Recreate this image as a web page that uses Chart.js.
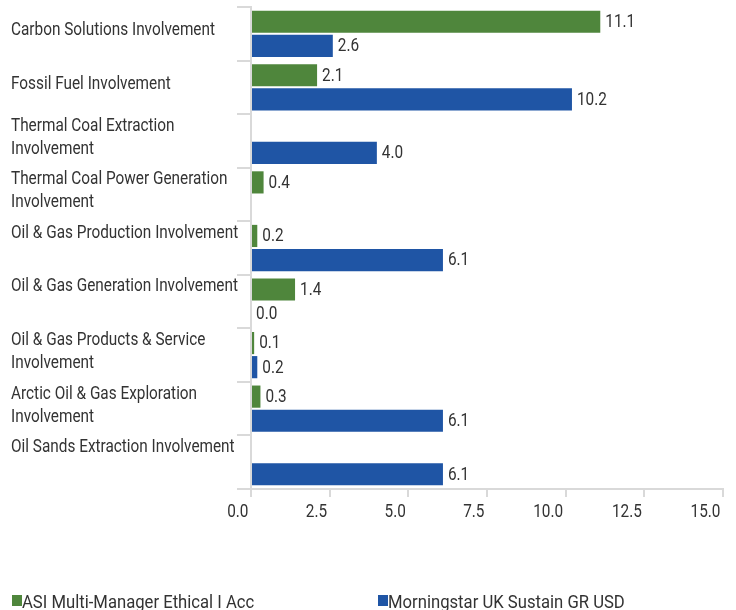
<!DOCTYPE html>
<html>
<head>
<meta charset="utf-8">
<script src="https://cdn.jsdelivr.net/npm/chart.js@4/dist/chart.umd.min.js"></script>
<style>
  html, body { margin: 0; padding: 0; background: #fff; }
  #wrap { width: 736px; height: 610px; }
</style>
</head>
<body>
<div id="wrap"><canvas id="myChart" width="736" height="610"></canvas></div>
<script>
// categories (long single lines get a blank 2nd line so they sit high like the original)
var categories = [
  ["Carbon Solutions Involvement"],
  ["Fossil Fuel Involvement"],
  ["Thermal Coal Extraction", "Involvement"],
  ["Thermal Coal Power Generation", "Involvement"],
  ["Oil & Gas Production Involvement", ""],
  ["Oil & Gas Generation Involvement", ""],
  ["Oil & Gas Products & Service", "Involvement"],
  ["Arctic Oil & Gas Exploration", "Involvement"],
  ["Oil Sands Extraction Involvement", ""]
];
var fundName = "ASI Multi-Manager Ethical I Acc";
var indexName = "Morningstar UK Sustain GR USD";
var fundValues = [11.1, 2.1, null, 0.4, 0.2, 1.4, 0.1, 0.3, null];
var indexValues = [2.6, 10.2, 4.0, null, 6.1, 0.0, 0.2, 6.1, 6.1];
var xTicks = [0, 2.5, 5, 7.5, 10, 12.5, 15];

var fontFamily = "Roboto, 'Liberation Sans', sans-serif";
var fontCss = '17.5px ' + fontFamily;
var legendFont = '19px ' + fontFamily;
var green = '#4F863C';
var blue = '#1F55A5';
var axisGray = '#d9d9d9';
var textColor = '#333';

// squeeze factor so the text looks condensed like the original
var sx = 1;
(function() {
  var c = document.createElement('canvas').getContext('2d');
  c.font = fontCss;
  sx = 204 / c.measureText('Carbon Solutions Involvement').width;
})();

function drawText(ctx, text, x, y, align, font, baseline) {
  ctx.save();
  ctx.font = font || fontCss;
  ctx.fillStyle = textColor;
  ctx.textBaseline = baseline || 'middle';
  ctx.textAlign = align || 'left';
  ctx.translate(x, y);
  ctx.scale(sx, 1);
  ctx.fillText(text, 0, 0);
  ctx.restore();
}

// all text is drawn here, condensed
var textPlugin = {
  id: 'textPlugin',
  afterDraw: function(chart) {
    var ctx = chart.ctx;
    // value labels
    chart.data.datasets.forEach(function(ds, i) {
      var meta = chart.getDatasetMeta(i);
      meta.data.forEach(function(bar, j) {
        var v = ds.data[j];
        if (v == null) return;
        drawText(ctx, v.toFixed(1), bar.x + 5, bar.y + 1);
      });
    });
    // category labels
    var ys = chart.scales.y;
    categories.forEach(function(lines, i) {
      var cy = ys.getPixelForTick(i) - 3;
      var lh = 23;
      var top = cy - (lines.length - 1) * lh / 2;
      lines.forEach(function(t, k) {
        drawText(ctx, t, 11, top + k * lh);
      });
    });
    // x tick labels, right aligned just left of the tick
    var xs = chart.scales.x;
    xTicks.forEach(function(v) {
      drawText(ctx, v.toFixed(1), xs.getPixelForValue(v) - 2.5, 513, 'right');
    });
    // legend
    var items = [
      { text: fundName, color: green, x: 12 },
      { text: indexName, color: blue, x: 378 }
    ];
    items.forEach(function(it) {
      ctx.fillStyle = it.color;
      ctx.fillRect(it.x, 595, 10, 11);
      drawText(ctx, it.text, it.x + 10, 608, 'left', legendFont, 'alphabetic');
    });
  }
};

const ctx = document.getElementById('myChart').getContext('2d');
const myChart = new Chart(ctx, {
  type: 'bar',
  data: {
    labels: categories,
    datasets: [{
      label: fundName,
      data: fundValues,
      backgroundColor: green,
      categoryPercentage: 0.9,
      barPercentage: 0.92
    }, {
      label: indexName,
      data: indexValues,
      backgroundColor: blue,
      categoryPercentage: 0.9,
      barPercentage: 0.92
    }]
  },
  options: {
    indexAxis: 'y',
    responsive: false,
    animation: false,
    layout: { padding: { top: 7, right: 13, left: 11, bottom: 0 } },
    plugins: {
      legend: { display: false },
      tooltip: { enabled: false }
    },
    scales: {
      x: {
        min: 0,
        max: 15,
        afterBuildTicks: function(scale) {
          scale.ticks = xTicks.map(function(v) { return { value: v }; });
        },
        afterFit: function(scale) { scale.height = 121; },
        ticks: { display: false },
        grid: { drawOnChartArea: false, tickLength: 8, color: axisGray, lineWidth: 2 },
        border: { color: axisGray, width: 2 }
      },
      y: {
        afterFit: function(scale) { scale.width = 240; },
        ticks: { display: false, autoSkip: false },
        grid: { drawOnChartArea: false, tickLength: 14, color: axisGray, lineWidth: 2 },
        border: { color: axisGray, width: 2 }
      }
    }
  },
  plugins: [textPlugin]
});
</script>
</body>
</html>
